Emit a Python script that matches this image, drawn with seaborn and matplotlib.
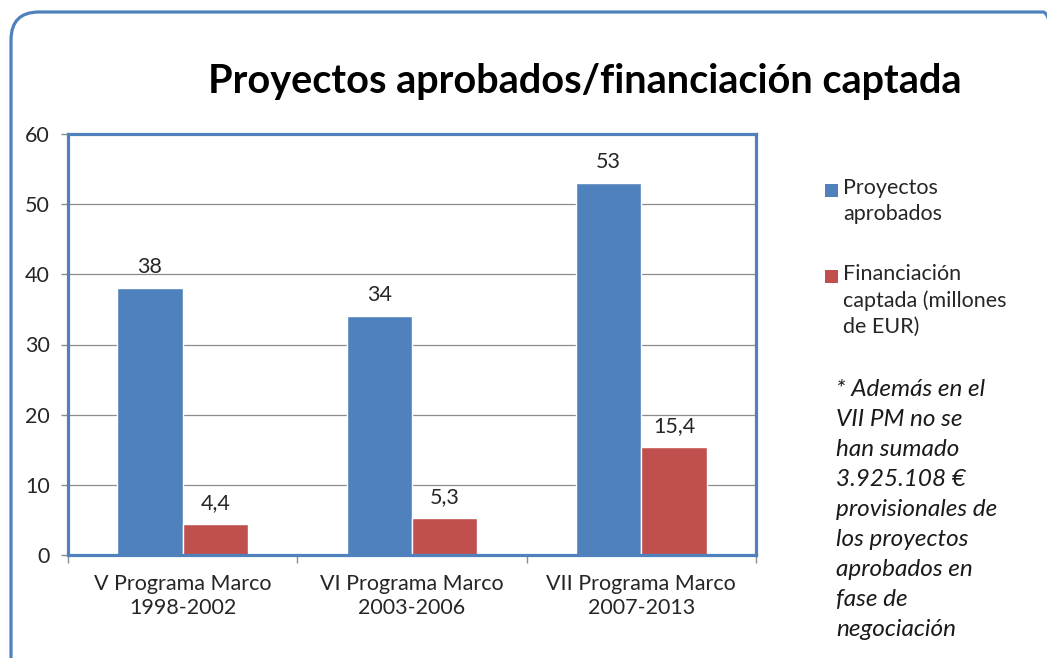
import matplotlib.pyplot as plt
import matplotlib.transforms as mtransforms
import pandas as pd
import seaborn as sns
from matplotlib.patches import FancyBboxPatch, Rectangle

# data
programas = ["V Programa Marco\n1998-2002", "VI Programa Marco\n2003-2006",
             "VII Programa Marco\n2007-2013"]
proyectos = [38, 34, 53]
financiacion = [4.4, 5.3, 15.4]
series = ["Proyectos\naprobados", "Financiación\ncaptada (millones\nde EUR)"]
colores = ["#4F81BD", "#C0504D"]
yticks = [0, 10, 20, 30, 40, 50, 60]
nota = ("* Además en el\nVII PM no se\nhan sumado\n3.925.108 €\nprovisionales de\n"
        "los proyectos\naprobados en\nfase de\nnegociación")

df = pd.DataFrame({
    "programa": programas * 2,
    "valor": proyectos + financiacion,
    "serie": [series[0]] * len(programas) + [series[1]] * len(programas),
})

sns.set_style("white")
plt.rcParams["font.family"] = ["Lato", "DejaVu Sans"]

W, H = 1047, 658
fig = plt.figure(figsize=(W / 100, H / 100), dpi=100)
ax = fig.add_axes([68 / W, 1 - 555 / H, (756 - 68) / W, (555 - 134) / H])

sns.barplot(data=df, x="programa", y="valor", hue="serie", palette=colores,
            width=0.57, saturation=1, ax=ax, legend=False)

# bar labels with comma decimals
for cont in ax.containers:
    labs = [f"{v:g}".replace(".", ",") for v in cont.datavalues]
    ax.bar_label(cont, labels=labs, padding=8, fontsize=15.5, color="#262626")

ax.set_ylim(0, 60)
ax.set_yticks(yticks)
ax.set_xlim(-0.5, 2.5)
ax.set_xlabel("")
ax.set_ylabel("")
ax.yaxis.grid(True, color="#8c8c8c", lw=0.9)
ax.set_axisbelow(True)
for s in ax.spines.values():
    s.set_color("#4F81BD")
    s.set_linewidth(2.3)

ax.tick_params(axis="y", left=True, length=5, width=1, color="#8c8c8c",
               labelsize=15.5, labelcolor="#262626", pad=8)
ax.tick_params(axis="x", which="major", length=0, labelsize=15.5,
               labelcolor="#262626", pad=14)
ax.set_xticks([-0.5, 0.5, 1.5, 2.5], minor=True)
ax.tick_params(axis="x", which="minor", bottom=True, length=6, width=1,
               color="#8c8c8c")

# legend: squares aligned with the first line of each label
leg_y = [190, 276]
for col, lab, y in zip(colores, series, leg_y):
    fig.patches.append(Rectangle((825 / W, 1 - (y + 6.5) / H), 13 / W, 13 / H,
                                 transform=fig.transFigure, facecolor=col,
                                 edgecolor="none"))
    fig.text(843 / W, 1 - (y - 12) / H, lab, ha="left", va="top", fontsize=15.5,
             color="#262626", linespacing=1.37)

fig.text(836 / W, 1 - 379 / H, nota, ha="left", va="top", fontsize=17.5,
         style="italic", color="#1a1a1a", linespacing=1.53)

fig.text(585 / W, 1 - 82 / H, "Proyectos aprobados/financiación captada",
         ha="center", va="center", fontsize=28.5, weight="bold", color="black")

# rounded outer frame
frame = FancyBboxPatch((11, -40), 1060, 686,
                       boxstyle="round,pad=0,rounding_size=28",
                       transform=mtransforms.IdentityTransform(),
                       facecolor="none", edgecolor="#4F81BD", lw=2.3)
fig.patches.append(frame)

fig.savefig("out.png", dpi=100)
